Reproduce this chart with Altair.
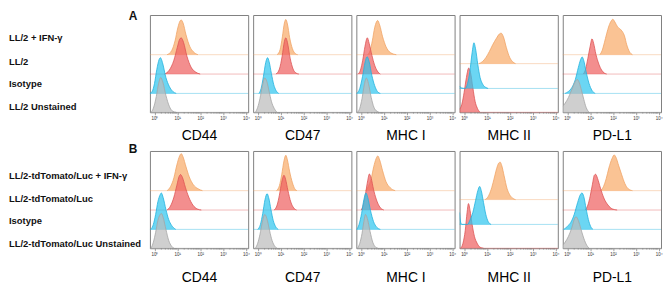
import altair as alt
import pandas as pd
import numpy as np

MARKERS = ["CD44", "CD47", "MHC I", "MHC II", "PD-L1"]
KEYS = ["CD44", "CD47", "MHCI", "MHCII", "PDL1"]
SERIES = ["ifn", "base", "iso", "unst"]
LABELS_A = ["LL/2 + IFN-γ", "LL/2", "Isotype", "LL/2 Unstained"]
LABELS_B = ["LL/2-tdTomato/Luc + IFN-γ", "LL/2-tdTomato/Luc", "Isotype", "LL/2-tdTomato/Luc Unstained"]
TICK_VALUES = [0, 1, 2, 3, 4]
TICK_SUPERS = ["⁰", "¹", "²", "³", "⁴"]

# lane baselines (panel units, panel height = 98)
LANES_STD = {"ifn": 58, "base": 38.5, "iso": 19, "unst": 0}
LANES_MHCII = {"ifn": 49, "iso": 24, "base": 0}

# ---- histogram curves: (log10 intensity, height) ----
A_CD44_ifn = [(0.55,0),(0.75,4),(0.9,14),(1.02,27),(1.12,34),(1.17,35),(1.25,32),(1.38,20),(1.55,8),(1.7,3),(1.9,0)]
A_CD44_base = [(0.44,0),(0.65,4),(0.85,14),(1.0,27),(1.1,35),(1.17,36.5),(1.27,32),(1.42,18),(1.6,7),(1.8,2),(2.0,0)]
A_CD44_iso = [(-0.2,0),(-0.1,2),(0.0,10),(0.1,24),(0.2,34),(0.26,36),(0.35,31),(0.5,16),(0.65,7),(0.8,2),(0.95,0)]
A_CD44_unst = [(-0.15,0),(-0.05,4),(0.08,16),(0.18,29),(0.27,35),(0.37,30),(0.5,17),(0.65,6),(0.8,1),(0.95,0)]

A_CD47_ifn = [(0.85,0),(0.98,5),(1.08,18),(1.17,32),(1.23,35.5),(1.3,31),(1.4,17),(1.52,6),(1.65,1),(1.75,0)]
A_CD47_base = [(0.8,0),(0.95,5),(1.07,18),(1.17,33),(1.23,36.5),(1.3,32),(1.42,16),(1.55,5),(1.68,1),(1.8,0)]
A_CD47_iso = [(0.05,0),(0.15,5),(0.25,17),(0.35,31),(0.43,36),(0.5,32),(0.6,20),(0.7,9),(0.8,3),(0.92,0)]
A_CD47_unst = [(-0.1,0),(0.0,5),(0.1,14),(0.2,26),(0.31,34.5),(0.4,31),(0.5,21),(0.6,11),(0.72,4),(0.85,0)]

A_MHCI_ifn = [(0.3,0),(0.4,4),(0.5,14),(0.6,27),(0.68,33),(0.73,34.5),(0.82,30),(0.95,18),(1.1,8),(1.3,2),(1.55,0)]
A_MHCI_base = [(-0.12,0),(-0.02,4),(0.08,14),(0.18,28),(0.28,36.5),(0.36,31),(0.48,19),(0.6,9),(0.72,3),(0.85,0)]
A_MHCI_iso = [(-0.18,0),(-0.05,5),(0.07,17),(0.18,31),(0.27,37),(0.36,32),(0.48,18),(0.6,8),(0.72,2),(0.85,0)]
A_MHCI_unst = [(-0.15,0),(-0.05,4),(0.05,14),(0.15,28),(0.24,34.5),(0.33,29),(0.45,15),(0.57,5),(0.7,1),(0.8,0)]

A_MHCII_ifn = [(0.65,0),(0.8,2),(0.95,6),(1.1,12),(1.25,19),(1.4,25),(1.55,30),(1.62,30.7),(1.72,27),(1.85,16),(2.0,6),(2.12,2),(2.25,0)]
A_MHCII_base = [(-0.2,3),(-0.1,8),(0.0,20),(0.1,35),(0.2,44.5),(0.28,40),(0.38,25),(0.48,11),(0.58,4),(0.7,0)]
A_MHCII_iso = [(-0.2,2.5),(-0.12,0.5),(0.05,0),(0.15,5),(0.25,17),(0.35,36),(0.43,46),(0.5,40),(0.6,24),(0.7,11),(0.82,4),(0.95,1),(1.05,0)]

A_PDL1_ifn = [(1.42,0),(1.52,4),(1.62,12),(1.72,21),(1.82,29),(1.92,34),(1.99,35.7),(2.08,33),(2.2,28),(2.35,25),(2.5,19),(2.6,10),(2.72,3),(2.85,0)]
A_PDL1_base = [(0.7,0),(0.8,5),(0.9,16),(1.0,28),(1.08,35.5),(1.15,31),(1.25,20),(1.38,10),(1.5,4),(1.62,1),(1.72,0)]
A_PDL1_iso = [(-0.1,0),(0.05,2),(0.2,6),(0.35,14),(0.48,26),(0.58,34),(0.65,36.7),(0.72,33),(0.82,22),(0.95,10),(1.08,3),(1.22,0)]
A_PDL1_unst = [(-0.2,6),(-0.1,9),(0.05,15),(0.2,23),(0.35,31),(0.43,33),(0.52,30),(0.62,22),(0.72,13),(0.82,5),(0.95,0)]

B_CD44_ifn = [(0.55,0),(0.7,4),(0.85,13),(0.98,26),(1.1,35),(1.17,37.3),(1.25,34),(1.38,24),(1.52,14),(1.7,6),(1.9,2),(2.1,0)]
B_CD44_base = [(0.55,0),(0.7,4),(0.85,13),(0.98,25),(1.08,34),(1.14,35.7),(1.22,33),(1.35,23),(1.5,13),(1.68,5),(1.88,1),(2.05,0)]
B_CD44_iso = [(-0.15,0),(-0.05,5),(0.05,15),(0.15,28),(0.25,35),(0.3,36.7),(0.38,32),(0.5,20),(0.62,10),(0.75,4),(0.93,0)]
B_CD44_unst = [(-0.15,0),(-0.05,6),(0.05,16),(0.15,28),(0.25,34),(0.3,35),(0.38,31),(0.5,19),(0.62,8),(0.75,2),(0.85,0)]

B_CD47_ifn = [(0.82,0),(0.95,5),(1.05,16),(1.15,30),(1.23,35.7),(1.3,31),(1.4,19),(1.52,8),(1.62,2),(1.72,0)]
B_CD47_base = [(0.72,0),(0.85,5),(0.95,15),(1.05,28),(1.15,35),(1.22,31),(1.32,20),(1.45,8),(1.58,2),(1.7,0)]
B_CD47_iso = [(0.0,0),(0.12,5),(0.22,16),(0.32,30),(0.41,36),(0.48,32),(0.58,20),(0.68,9),(0.78,3),(0.9,0)]
B_CD47_unst = [(-0.1,0),(0.0,5),(0.1,14),(0.2,26),(0.31,34),(0.4,30),(0.5,20),(0.6,10),(0.72,3),(0.85,0)]

B_MHCI_ifn = [(0.2,0),(0.32,4),(0.45,12),(0.56,24),(0.66,32),(0.74,35),(0.82,31),(0.95,20),(1.1,9),(1.28,3),(1.5,0)]
B_MHCI_base = [(0.02,0),(0.1,5),(0.2,16),(0.3,30),(0.37,36.3),(0.45,32),(0.55,21),(0.67,11),(0.8,4),(1.0,0)]
B_MHCI_iso = [(-0.18,0),(-0.08,5),(0.03,16),(0.13,30),(0.22,36.7),(0.3,32),(0.42,19),(0.55,8),(0.7,2),(0.85,0)]
B_MHCI_unst = [(-0.15,0),(-0.05,5),(0.05,15),(0.13,27),(0.2,34),(0.28,30),(0.4,17),(0.52,6),(0.65,1),(0.75,0)]

B_MHCII_ifn = [(0.92,0),(1.05,3),(1.18,10),(1.3,20),(1.42,31),(1.52,37),(1.58,37.7),(1.65,34),(1.75,24),(1.88,11),(2.02,4),(2.15,1),(2.25,0)]
B_MHCII_base = [(-0.15,0),(-0.05,5),(0.05,18),(0.13,36),(0.19,45),(0.26,38),(0.35,24),(0.45,12),(0.57,5),(0.7,1),(0.85,0)]
B_MHCII_iso = [(-0.2,12),(-0.15,2),(-0.1,0),(0.15,0),(0.25,4),(0.38,12),(0.5,24),(0.6,34),(0.68,38.3),(0.75,34),(0.85,22),(0.95,10),(1.05,3),(1.18,0)]

B_PDL1_ifn = [(1.45,0),(1.58,4),(1.7,12),(1.82,23),(1.95,32),(2.05,36),(2.12,34),(2.25,25),(2.38,16),(2.52,7),(2.66,2),(2.85,0)]
B_PDL1_base = [(0.78,0),(0.9,5),(1.0,14),(1.1,26),(1.18,35),(1.24,36),(1.32,32),(1.45,22),(1.6,12),(1.78,5),(1.98,1),(2.18,0)]
B_PDL1_iso = [(-0.15,0),(0.0,3),(0.15,7),(0.3,15),(0.45,27),(0.57,35),(0.64,36.7),(0.72,33),(0.82,21),(0.92,10),(1.02,3),(1.12,0)]
B_PDL1_unst = [(-0.2,3),(-0.1,6),(0.05,12),(0.2,21),(0.32,30),(0.38,31.7),(0.48,28),(0.6,19),(0.72,10),(0.85,3),(0.95,0)]

FILL = {"ifn": "#F8AA66", "base": "#EE5E5E", "iso": "#2CC4EE", "unst": "#BBBBBB"}
STROKE = {"ifn": "#F0A466", "base": "#DD5555", "iso": "#22B2DE", "unst": "#A6A6A6"}

MINOR = [d + np.log10(m) for d in range(4) for m in range(2, 10)]

X_SCALE = alt.Scale(domain=[-0.2, 4.1], nice=False, zero=False)
Y_SCALE = alt.Scale(domain=[0, 98], nice=False, zero=False)
PW, PH = 99, 98

label_expr = "'10' + " + str(TICK_SUPERS) + "[datum.value]"


def xenc(title, tp):
    return alt.X(
        "x:Q", scale=X_SCALE,
        axis=alt.Axis(values=TICK_VALUES, labelExpr=label_expr, labelFontSize=4.5,
                      labelColor="#333333", labelPadding=1, tickSize=2.5, tickColor="#666666",
                      tickWidth=0.6, domain=False, grid=False, title=title, titleFontSize=14,
                      titleFontWeight="normal", titleFont="Arial", titleColor="#000000",
                      titlePadding=tp, labelFlush=False),
    )


def panel(row, idx, tp):
    key = KEYS[idx]
    title = MARKERS[idx]
    lanes = LANES_MHCII if key == "MHCII" else LANES_STD
    order = [s for s in SERIES if s in lanes]
    layers = []
    for s in order:
        layers.append(
            alt.Chart(pd.DataFrame({"base": [lanes[s]]}))
            .mark_rule(color=STROKE[s], strokeWidth=0.8, opacity=0.5)
            .encode(y=alt.Y("base:Q", scale=Y_SCALE, axis=None))
        )
    for s in order:
        pts = globals()[f"{row}_{key}_{s}"]
        df = pd.DataFrame(pts, columns=["x", "h"])
        df["base"] = lanes[s]
        df["top"] = df["base"] + df["h"]
        layers.append(
            alt.Chart(df).mark_area(interpolate="monotone", color=FILL[s], opacity=0.7, clip=True)
            .encode(x=xenc(title, tp), y=alt.Y("top:Q", scale=Y_SCALE, axis=None), y2="base:Q")
        )
        layers.append(
            alt.Chart(df).mark_line(interpolate="monotone", color=STROKE[s], strokeWidth=0.8, clip=True)
            .encode(x=xenc(title, tp), y=alt.Y("top:Q", scale=Y_SCALE, axis=None))
        )
    layers.append(
        alt.Chart(pd.DataFrame({"x": MINOR})).mark_rule(color="#777777", strokeWidth=0.5)
        .encode(x=xenc(title, tp), y=alt.value(PH), y2=alt.value(PH + 1.5))
    )
    return alt.layer(*layers).properties(width=PW, height=PH)


def label_chart(labels, letter, ys, letter_y):
    df = pd.DataFrame({"t": labels, "py": ys})
    txt = alt.Chart(df).mark_text(align="left", baseline="middle", font="Arial",
                                  fontWeight="bold", fontSize=9.5, color="#111111").encode(
        x=alt.value(0), y=alt.Y("py:Q", scale=None, axis=None), text="t:N")
    let = alt.Chart(pd.DataFrame({"t": [letter]})).mark_text(
        align="center", baseline="middle", font="Arial", fontWeight="bold", fontSize=12,
        color="#111111").encode(x=alt.value(125), y=alt.value(letter_y), text="t:N")
    return alt.layer(txt, let).properties(width=137, height=PH,
                                          view=alt.ViewBackground(stroke="transparent"))


cells = [label_chart(LABELS_A, "A", [23, 47, 70, 93], 1)]
cells += [panel("A", i, 8.5) for i in range(5)]
cells += [label_chart(LABELS_B, "B", [25, 48, 71, 94], -2)]
cells += [panel("B", i, 15) for i in range(5)]

chart = (
    alt.concat(*cells, columns=6, spacing={"row": 39, "column": 5}, bounds="flush")
    .properties(padding={"left": 0, "top": 0, "right": 0, "bottom": 0})
    .configure_view(stroke="#808080", strokeWidth=1)
)

chart.save("out.html", embed_options={"renderer": "svg", "actions": False})
